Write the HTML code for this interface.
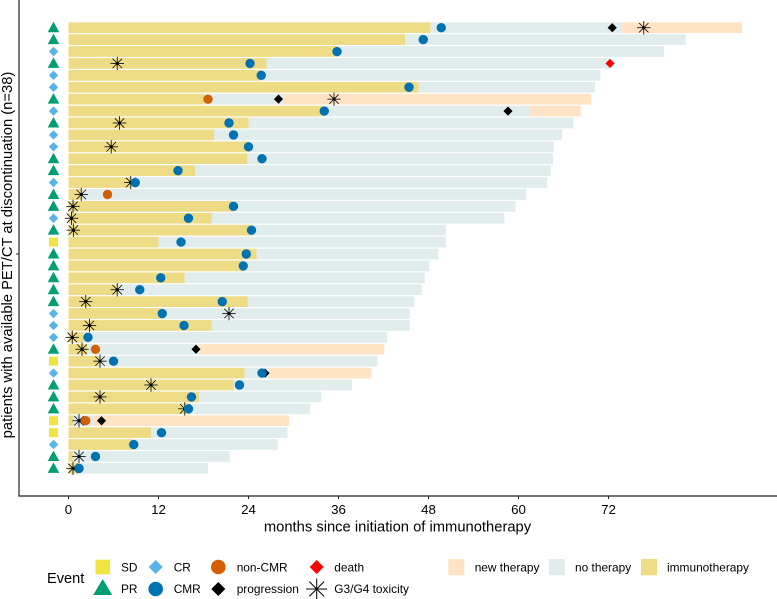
<!DOCTYPE html>
<html lang="en">
<head>
<meta charset="utf-8">
<title>Swimmer plot</title>
<style>
html,body{margin:0;padding:0;background:#fff;width:777px;height:599px;overflow:hidden}
svg{display:block}
text{font-family:"Liberation Sans",sans-serif;fill:#000}
</style>
</head>
<body>
<svg id="chart" width="777" height="599" viewBox="0 0 777 599" xmlns="http://www.w3.org/2000/svg">
  <g id="bars"></g>
  <g id="marks"></g>
  <line x1="19" y1="0" x2="19" y2="496.5" stroke="#222" stroke-width="1.2"/>
  <line x1="18.4" y1="496" x2="777" y2="496" stroke="#222" stroke-width="1.2"/>
  <line x1="16" y1="254" x2="19" y2="254" stroke="#222" stroke-width="1"/>
  <g id="xticks"></g>
  <text transform="translate(12,255) rotate(-90)" text-anchor="middle" font-size="14.75">patients with available PET/CT at discontinuation (n=38)</text>
  <text x="397.5" y="531.5" text-anchor="middle" font-size="14.75">months since initiation of immunotherapy</text>

  <g font-size="11.9">
    <text x="47" y="583" font-size="14.6">Event</text>
    <rect x="95.5" y="559.7" width="14.6" height="14.6" fill="#F0E442"/>
    <text x="121" y="571.3">SD</text>
    <polygon points="102.7,579 112.2,595 93.2,595" fill="#009E73"/>
    <text x="121" y="593">PR</text>
    <polygon points="155.7,560 162.7,567 155.7,574 148.7,567" fill="#56B4E9"/>
    <text x="173.7" y="571.3">CR</text>
    <circle cx="155.7" cy="589" r="7.3" fill="#0072B2"/>
    <text x="173.7" y="593">CMR</text>
    <circle cx="218.3" cy="567" r="7.3" fill="#D55E00"/>
    <text x="236.7" y="571.3">non-CMR</text>
    <polygon points="218.3,582 225.3,589 218.3,596 211.3,589" fill="#000"/>
    <text x="236.7" y="593">progression</text>
    <polygon points="316.7,560 323.7,567 316.7,574 309.7,567" fill="#FF0000"/>
    <text x="334.3" y="571.3">death</text>
    <g stroke="#000" stroke-width="1">
      <line x1="306.2" y1="589" x2="327.2" y2="589"/>
      <line x1="316.7" y1="578.5" x2="316.7" y2="599"/>
      <line x1="309.3" y1="581.6" x2="324.1" y2="596.4"/>
      <line x1="309.3" y1="596.4" x2="324.1" y2="581.6"/>
    </g>
    <text x="334.3" y="593">G3/G4 toxicity</text>
    <rect x="448.3" y="559" width="16" height="16.3" fill="#FFE3C4"/>
    <text x="474.7" y="571.3">new therapy</text>
    <rect x="549" y="559" width="16" height="16.3" fill="#E0EDEC"/>
    <text x="575" y="571.3">no therapy</text>
    <rect x="641" y="559" width="16" height="16.3" fill="#EDDB85"/>
    <text x="667" y="571.3">immunotherapy</text>
  </g>
</svg>
<script>
// Values in months, one entry per patient, top row first.
const response = ['PR','PR','CR','PR','CR','CR','PR','CR','PR','CR','CR','PR','PR','CR','PR','PR','CR','PR','SD','PR','PR','PR','PR','PR','CR','CR','CR','PR','SD','CR','PR','PR','PR','SD','SD','CR','PR','PR'];
const immunotherapyEnd = [48.3,44.9,35.8,26.4,25.7,46.7,18.1,33.9,24,19.4,24,23.8,16.9,8.3,1.7,22,19.1,24.4,12,25.1,23.3,15.5,6.5,23.9,12.5,19.1,2,2.5,4.2,23.5,22,17.4,16,0.7,11,8.7,0.6,1.2];
const noTherapyEnd = [73.8,82.3,79.4,72.2,70.9,70.2,28.6,61.4,67.3,65.8,64.7,64.6,64.3,63.8,61,59.6,58.1,50.3,50.3,49.3,48.1,47.5,47.1,46.1,45.5,45.5,42.5,17.5,41.2,26.8,37.8,33.7,32.2,3.4,29.2,27.9,21.5,18.6];
const newTherapyEnd = [89.8,null,null,null,null,null,69.7,68.3,null,null,null,null,null,null,null,null,null,null,null,null,null,null,null,null,null,null,null,42.1,null,40.4,null,null,null,29.4,null,null,null,null];
const cmrTime = [49.7,47.3,35.8,24.2,25.7,45.4,null,34.1,21.4,22,24,25.8,14.6,8.9,null,22,16,24.4,15,23.7,23.3,12.3,9.5,20.5,12.5,15.4,2.6,null,6,25.8,22.8,16.4,16,null,12.4,8.7,3.6,1.4];
const nonCmrTime = [null,null,null,null,null,null,18.6,null,null,null,null,null,null,null,5.2,null,null,null,null,null,null,null,null,null,null,null,null,3.6,null,null,null,null,null,2.3,null,null,null,null];
const progressionTime = [72.5,null,null,null,null,null,28,58.6,null,null,null,null,null,null,null,null,null,null,null,null,null,null,null,null,null,null,null,17,null,26.2,null,null,null,4.4,null,null,null,null];
const deathTime = [null,null,null,72.2,null,null,null,null,null,null,null,null,null,null,null,null,null,null,null,null,null,null,null,null,null,null,null,null,null,null,null,null,null,null,null,null,null,null];
const toxicityTime = [76.7,null,null,6.5,null,null,35.4,null,6.8,null,5.7,null,null,8.3,1.7,0.6,0.4,0.65,null,null,null,null,6.5,2.3,21.4,2.8,0.5,1.8,4.2,null,11,4.2,15.5,1.4,null,null,1.4,0.6];
const xTickValues = [0,12,24,36,48,60,72];

const SVGNS = 'http://www.w3.org/2000/svg';
const xScale = m => 68.5 + 7.5 * m;
const yScale = i => 27.7 + 11.91 * i;
const barsLayer = document.getElementById('bars');
const marksLayer = document.getElementById('marks');
const tickLayer = document.getElementById('xticks');

function make(tag, attrs, parent) {
  const el = document.createElementNS(SVGNS, tag);
  for (const k in attrs) el.setAttribute(k, attrs[k]);
  parent.appendChild(el);
  return el;
}
function segment(i, from, to, fill, name) {
  const el = make('rect', {x: xScale(from), y: yScale(i) - 5.35, width: Math.max(0, xScale(to) - xScale(from)), height: 10.7, fill: fill}, barsLayer);
  
  
}
function diamond(i, m, r, fill, name) {
  const x = xScale(m), y = yScale(i);
  const el = make('polygon', {points: [x, y - r, x + r, y, x, y + r, x - r, y].join(' '), fill: fill}, marksLayer);
  
  
}
function dot(i, m, fill, name) {
  const el = make('circle', {cx: xScale(m), cy: yScale(i), r: 4.7, fill: fill}, marksLayer);
  
  
}
function star(i, m) {
  const x = xScale(m), y = yScale(i);
  const g = make('g', {stroke: '#111', 'stroke-width': 0.85}, marksLayer);
  
  
  make('line', {x1: x - 6.7, y1: y, x2: x + 6.7, y2: y}, g);
  make('line', {x1: x, y1: y - 6.7, x2: x, y2: y + 6.7}, g);
  make('line', {x1: x - 4.7, y1: y - 4.7, x2: x + 4.7, y2: y + 4.7}, g);
  make('line', {x1: x - 4.7, y1: y + 4.7, x2: x + 4.7, y2: y - 4.7}, g);
  make('circle', {cx: x, cy: y, r: 1.6, fill: '#000', stroke: 'none'}, g);
}
function responseMarker(i) {
  const cx = 53.5, y = yScale(i), kind = response[i];
  let el;
  if (kind === 'PR') {
    el = make('polygon', {points: [cx, y - 6, cx + 5.8, y + 4.5, cx - 5.8, y + 4.5].join(' '), fill: '#009E73'}, marksLayer);
    
  } else if (kind === 'CR') {
    el = make('polygon', {points: [cx, y - 4.7, cx + 4.7, y, cx, y + 4.7, cx - 4.7, y].join(' '), fill: '#56B4E9'}, marksLayer);
    
  } else {
    el = make('rect', {x: cx - 4.5, y: y - 4.5, width: 9, height: 9, fill: '#F0E442'}, marksLayer);
    
  }
  
}

response.forEach((kind, i) => {
  segment(i, 0, immunotherapyEnd[i], '#EDDB85', 'immunotherapy-bar');
  segment(i, immunotherapyEnd[i], noTherapyEnd[i], '#E0EDEC', 'no-therapy-bar');
  if (newTherapyEnd[i] !== null) segment(i, noTherapyEnd[i], newTherapyEnd[i], '#FFE3C4', 'new-therapy-bar');
});
response.forEach((kind, i) => {
  responseMarker(i);
  if (toxicityTime[i] !== null) star(i, toxicityTime[i]);
  if (progressionTime[i] !== null) diamond(i, progressionTime[i], 4.6, '#000', 'progression-marker');
  if (deathTime[i] !== null) diamond(i, deathTime[i], 4.6, '#FF0000', 'death-marker');
  if (nonCmrTime[i] !== null) dot(i, nonCmrTime[i], '#D55E00', 'non-cmr-marker');
  if (cmrTime[i] !== null) dot(i, cmrTime[i], '#0072B2', 'cmr-marker');
});
xTickValues.forEach(v => {
  const tick = make('line', {x1: xScale(v), y1: 496, x2: xScale(v), y2: 499, stroke: '#222', 'stroke-width': 1}, tickLayer);
  
  
  const label = make('text', {x: xScale(v), y: 514, 'text-anchor': 'middle', 'font-size': 13.3}, tickLayer);
  
  
  label.textContent = v;
});
</script>
</body>
</html>
